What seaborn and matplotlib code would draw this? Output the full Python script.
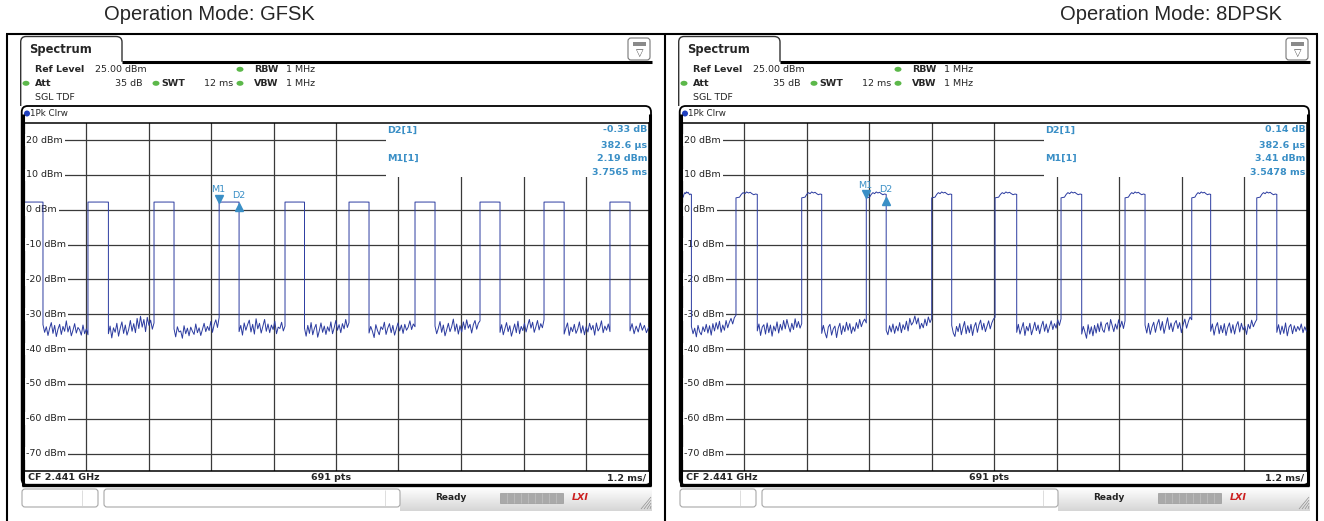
import numpy as np
import matplotlib
matplotlib.use("Agg")
import matplotlib.pyplot as plt
import seaborn as sns
from matplotlib.patches import FancyBboxPatch, Rectangle, Ellipse, PathPatch
from matplotlib.path import Path
from matplotlib.transforms import offset_copy, blended_transform_factory

# ---------------- data ----------------
panel_titles = ["Operation Mode: GFSK", "Operation Mode: 8DPSK"]

y_tick_values = [20, 10, 0, -10, -20, -30, -40, -50, -60, -70]
y_tick_labels = ["20 dBm", "10 dBm", "0 dBm", "-10 dBm", "-20 dBm",
                 "-30 dBm", "-40 dBm", "-50 dBm", "-60 dBm", "-70 dBm"]

# GFSK: pulse rising / falling times (ms) and top level profile (dBm)
gfsk_rise = [0.0, 1.238, 2.506, 3.7565, 5.021, 6.250, 7.517, 8.765, 9.994, 11.260]
gfsk_fall = [0.374, 1.630, 2.890, 4.139, 5.395, 6.634, 7.901, 9.149, 10.380, 11.645]
gfsk_top = [2.19, 2.20, 2.21, 2.20, 2.18]
gfsk_noise = [
    [-33.0, -35.2, -33.6, -36.1, -34.0, -32.4, -35.5, -33.2, -36.4, -34.3, -32.9, -35.8, -33.5, -34.9, -31.9, -35.1, -33.4, -36.2, -34.6, -32.7, -35.4, -33.8, -34.5, -36.0, -33.1, -35.6, -34.2, -35.9],
    [-35.6, -33.4, -36.8, -33.9, -35.2, -32.6, -36.3, -34.0, -32.2, -35.5, -33.1, -36.0, -34.4, -31.8, -34.9, -32.7, -35.3, -31.2, -34.1, -30.6, -33.7, -31.5, -35.0, -30.9, -33.2, -31.7, -34.3, -32.5],
    [-34.2, -36.5, -33.6, -35.1, -34.8, -36.9, -33.3, -35.6, -34.0, -36.2, -33.7, -34.9, -35.8, -32.8, -35.3, -33.9, -36.1, -34.4, -32.6, -35.0, -33.5, -34.7, -32.1, -35.2, -33.0, -31.6, -33.8, -30.9],
    [-35.0, -33.2, -36.0, -32.5, -34.6, -33.0, -31.7, -35.1, -32.9, -35.7, -31.3, -34.2, -32.6, -35.4, -33.5, -31.5, -34.9, -32.8, -35.3, -33.1, -34.4, -32.0, -35.6, -33.7, -34.1, -32.3, -34.8, -33.4],
    [-34.0, -36.3, -33.2, -35.5, -32.4, -35.9, -34.1, -32.9, -36.6, -34.7, -32.5, -35.2, -33.4, -35.8, -33.6, -34.9, -32.2, -35.6, -33.9, -31.8, -34.6, -33.0, -35.3, -32.7, -34.2, -31.5, -33.8, -32.4],
    [-35.4, -33.5, -34.9, -36.7, -33.0, -34.7, -35.9, -33.6, -34.4, -32.3, -35.8, -34.0, -32.7, -35.3, -33.2, -36.0, -34.3, -32.5, -34.8, -33.1, -35.5, -32.9, -34.6, -33.7, -31.9, -34.4, -32.8, -33.6],
    [-33.4, -35.6, -34.0, -32.1, -35.2, -33.1, -36.2, -34.5, -32.6, -35.0, -33.6, -31.4, -34.9, -32.8, -35.7, -33.3, -35.1, -32.2, -34.4, -31.6, -34.0, -32.9, -35.4, -33.0, -31.8, -34.3, -32.6, -31.9],
    [-35.2, -33.0, -35.9, -34.2, -32.4, -35.0, -33.3, -36.3, -34.6, -32.8, -35.3, -32.0, -35.6, -33.5, -34.7, -32.6, -35.1, -33.2, -31.5, -34.0, -32.3, -35.2, -33.6, -31.8, -34.5, -32.7, -33.9, -31.6],
    [-35.7, -34.0, -32.5, -36.1, -33.7, -35.0, -32.9, -35.5, -34.3, -32.2, -35.4, -33.3, -35.9, -33.6, -35.1, -32.6, -34.5, -33.2, -36.0, -32.5, -34.8, -33.9, -31.9, -35.3, -33.4, -34.6, -32.8, -35.0],
    [-34.8, -32.7, -35.6, -33.4, -35.1, -32.5, -34.6, -33.2, -35.3, -33.8],
]

# 8DPSK
dpsk_rise = [0.0, 1.046, 2.308, 3.5478, 4.804, 6.020, 7.287, 8.516, 9.797, 11.045]
dpsk_fall = [0.190, 1.455, 2.692, 3.930, 5.188, 6.436, 7.684, 8.900, 10.160, 11.430]
dpsk_top = [3.4, 3.5, 3.6, 4.4, 4.9, 4.6, 5.1, 4.8, 5.0, 4.6, 4.3, 4.5, 4.4]
dpsk_noise = [
    [-33.5, -35.6, -34.0, -36.5, -33.2, -35.1, -35.9, -33.6, -35.0, -32.9, -35.4, -33.3, -36.0, -32.7, -34.8, -32.4, -34.3, -32.0, -35.2, -33.1, -34.6, -31.8, -33.9, -32.3, -31.2, -32.8, -31.0, -30.3],
    [-34.8, -32.8, -36.1, -33.7, -33.0, -35.7, -32.5, -35.3, -33.1, -36.3, -33.4, -34.8, -32.2, -35.4, -32.9, -34.6, -31.8, -34.2, -31.5, -33.5, -35.1, -32.6, -34.4, -31.3, -33.8, -32.1, -34.0, -32.7],
    [-35.5, -33.2, -35.3, -36.8, -33.7, -32.9, -36.0, -34.2, -33.4, -36.7, -34.0, -32.6, -35.8, -33.3, -35.0, -32.3, -34.6, -32.7, -35.5, -33.6, -34.9, -32.4, -34.1, -31.5, -33.6, -32.2, -31.4, -32.5],
    [-34.6, -35.9, -33.3, -35.1, -32.8, -35.5, -33.4, -34.8, -32.4, -35.3, -33.0, -34.4, -32.0, -34.8, -31.2, -33.1, -32.3, -30.5, -32.8, -31.1, -34.2, -32.6, -33.9, -31.4, -33.3, -30.8, -32.4, -31.2],
    [-33.2, -35.4, -36.4, -33.5, -35.0, -32.7, -35.9, -33.8, -32.1, -35.6, -33.3, -35.3, -32.9, -36.1, -33.6, -32.4, -35.2, -33.0, -31.7, -34.5, -32.6, -35.0, -33.4, -31.9, -34.2, -32.5, -31.4, -30.9],
    [-35.2, -32.9, -35.7, -34.0, -32.4, -36.1, -33.5, -34.8, -32.6, -35.9, -34.2, -32.3, -34.7, -33.1, -35.6, -33.4, -32.0, -34.9, -32.8, -35.3, -33.6, -31.9, -34.4, -32.7, -34.0, -31.6, -33.2, -31.3],
    [-35.7, -33.5, -35.1, -36.9, -33.0, -35.7, -33.6, -36.2, -33.2, -35.4, -32.7, -35.0, -32.2, -34.5, -35.2, -32.9, -32.4, -34.8, -31.5, -33.2, -35.0, -32.8, -34.3, -31.6, -33.7, -32.0, -34.1, -31.9],
    [-33.1, -35.4, -32.6, -35.8, -33.7, -32.3, -35.2, -32.9, -31.5, -34.6, -32.1, -35.5, -33.2, -31.0, -34.4, -32.5, -35.0, -32.7, -31.8, -34.1, -32.4, -35.3, -33.0, -31.4, -34.0, -32.2, -30.8, -31.6],
    [-34.9, -32.8, -36.0, -33.6, -32.4, -35.6, -33.2, -35.3, -32.7, -36.1, -33.8, -32.5, -35.4, -33.0, -35.7, -33.3, -32.1, -35.1, -32.6, -34.5, -33.4, -35.8, -32.9, -34.2, -31.7, -33.6, -32.4, -31.5],
    [-35.2, -33.0, -35.8, -33.4, -35.5, -32.5, -36.2, -33.7, -32.9, -35.6, -33.3, -35.0, -33.5, -34.6, -32.8, -35.3, -33.6, -34.9],
]

# markers: M1 position (ms, dBm) and D2 delta (ms, dB)
gfsk_m1 = (3.7565, 2.19)
gfsk_d2_delta = (0.3826, -0.33)
dpsk_m1 = (3.5478, 3.41)
dpsk_d2_delta = (0.3826, 0.14)
gfsk_readout = ["-0.33 dB", "382.6 µs", "2.19 dBm", "3.7565 ms"]
dpsk_readout = ["0.14 dB", "382.6 µs", "3.41 dBm", "3.5478 ms"]

header_ref = "25.00 dBm"
header_att = "35 dB"
header_swt = "12 ms"
header_rbw = "1 MHz"
header_vbw = "1 MHz"
footer_cf = "CF 2.441 GHz"
footer_pts = "691 pts"
footer_div = "1.2 ms/"
sweep_time = 12.0

# ---------------- drawing ----------------
W, H = 1324, 521
sns.set_theme(style="white")
plt.rcParams["font.family"] = ["DejaVu Sans"]

fig = plt.figure(figsize=(W / 100, H / 100), dpi=100)
fig.patch.set_facecolor("white")

TRACE = "#2b3ba0"
TEAL = "#3a8fc6"
GRID = "#3a3a3a"
FS = 6.8


def fax(x0, y0, x1, y1, **kw):
    return fig.add_axes([x0 / W, 1 - y1 / H, (x1 - x0) / W, (y1 - y0) / H], **kw)


def build_trace(rises, falls, top, gaps, end):
    t, y = [], []
    for i, (r, f) in enumerate(zip(rises, falls)):
        t.extend(np.linspace(r, f, len(top)))
        y.extend(top)
        g = gaps[i]
        nxt = rises[i + 1] if i + 1 < len(rises) else end
        t.extend(np.linspace(f, nxt, len(g)))
        y.extend(g)
    return np.array(t), np.array(y)


overlay = fax(0, 0, W, H, zorder=10)
overlay.axis("off")


def L(x0, y0, x1, y1, lw=1.0, color="black"):
    overlay.plot([x0, x1], [y0, y1], color=color, lw=lw, solid_capstyle="butt")


def T(x, y, s, **kw):
    kw.setdefault("fontsize", FS)
    kw.setdefault("va", "center")
    overlay.text(x, y, s, **kw)


def dot(x, y, color, w=7, h=5):
    overlay.add_patch(Ellipse((x, y), w, h, color=color, lw=0))


# outer table
L(6, 34, 1318, 34, 1.5)
for xv in (7, 665, 1317):
    L(xv, 33.5, xv, 521, 1.5)

panels = [
    (gfsk_rise, gfsk_fall, gfsk_top, gfsk_noise, gfsk_m1, gfsk_d2_delta, gfsk_readout),
    (dpsk_rise, dpsk_fall, dpsk_top, dpsk_noise, dpsk_m1, dpsk_d2_delta, dpsk_readout),
]
title_x = [209, 1171]

for p, (rise, fall, top, noise, m1, d2d, readout) in enumerate(panels):
    ox = 0 if p == 0 else 658

    T(title_x[p], 15, panel_titles[p], fontsize=14.5, ha="center",
      family=["Liberation Sans", "DejaVu Sans"])

    # tab
    verts = [(20.7 + ox, 106), (20.7 + ox, 42), (20.7 + ox, 36.5), (26 + ox, 36.5),
             (116 + ox, 36.5), (122 + ox, 36.5), (122 + ox, 42), (122 + ox, 61.7)]
    codes = [Path.MOVETO, Path.LINETO, Path.CURVE3, Path.CURVE3,
             Path.LINETO, Path.CURVE3, Path.CURVE3, Path.LINETO]
    overlay.add_patch(PathPatch(Path(verts, codes), fc="none", ec="#333333", lw=1.0))
    L(122 + ox, 61.7, 652 + ox, 61.7, 2.2)
    T(29 + ox, 49.5, "Spectrum", fontsize=8.3, weight="bold")

    # icon
    overlay.add_patch(FancyBboxPatch((628 + ox, 38), 22, 22,
                                     boxstyle="round,pad=0,rounding_size=3",
                                     fc="white", ec="#777777", lw=0.8))
    overlay.add_patch(Rectangle((633 + ox, 42), 13, 4, fc="#8a8a8a", ec="none"))
    T(639.5 + ox, 52.5, "▽", fontsize=7, ha="center", color="#555555")

    # header rows
    T(35 + ox, 69.3, "Ref Level", weight="bold")
    T(95 + ox, 69.3, header_ref)
    dot(240 + ox, 69.3, "#5cb84a")
    T(254 + ox, 69.3, "RBW", weight="bold")
    T(286 + ox, 69.3, header_rbw)

    dot(26 + ox, 83.3, "#5cb84a")
    T(35 + ox, 83.3, "Att", weight="bold")
    T(142.7 + ox, 83.3, header_att, ha="right")
    dot(156 + ox, 83.3, "#5cb84a")
    T(161 + ox, 83.3, "SWT", weight="bold")
    T(204 + ox, 83.3, header_swt)
    dot(240 + ox, 83.3, "#5cb84a")
    T(254 + ox, 83.3, "VBW", weight="bold")
    T(286 + ox, 83.3, header_vbw)

    T(35 + ox, 97, "SGL TDF")

    # plot window frame
    overlay.add_patch(FancyBboxPatch((21.7 + ox, 106), 629.3, 379,
                                     boxstyle="round,pad=0,rounding_size=6",
                                     fc="none", ec="black", lw=1.3))
    L(22.6 + ox, 114, 22.6 + ox, 485.5, 2.2)
    L(650.2 + ox, 114, 650.2 + ox, 485.5, 2.2)
    L(22 + ox, 485, 651 + ox, 485, 2.4)
    dot(27 + ox, 113.5, "#1f3fbf", 6, 6)
    T(30.5 + ox, 113.5, "1Pk Clrw", fontsize=6.3)

    # footer
    T(28 + ox, 478, footer_cf, weight="bold")
    T(331 + ox, 478, footer_pts, weight="bold", ha="center")
    T(646 + ox, 478, footer_div, weight="bold", ha="right")

    # marker readout
    T(386.7 + ox, 130, "D2[1]", weight="bold", color=TEAL)
    T(386.7 + ox, 158.3, "M1[1]", weight="bold", color=TEAL)
    for k, yy in enumerate([130, 145.5, 158.8, 172.5]):
        T(647.5 + ox, yy, readout[k], weight="bold", color=TEAL, ha="right")

    # status bar
    g = np.linspace(1.0, 0.84, 24)
    img = np.dstack([g, g, g]).reshape(24, 1, 3)
    overlay.imshow(img, extent=(400 + ox, 652 + ox, 511, 487), aspect="auto",
                   zorder=0, interpolation="bilinear")
    overlay.add_patch(FancyBboxPatch((22 + ox, 489), 76, 18,
                                     boxstyle="round,pad=0,rounding_size=3",
                                     fc="white", ec="#a8a8a8", lw=0.8))
    L(82 + ox, 490, 82 + ox, 506, 0.5, "#d0d0d0")
    overlay.add_patch(FancyBboxPatch((104 + ox, 489), 296, 18,
                                     boxstyle="round,pad=0,rounding_size=3",
                                     fc="white", ec="#a8a8a8", lw=0.8))
    L(385 + ox, 490, 385 + ox, 506, 0.5, "#d0d0d0")
    T(451 + ox, 498, "Ready", weight="bold", ha="center", fontsize=6.5, color="#222222")
    overlay.add_patch(Rectangle((500 + ox, 493), 63, 10, fc="#a9a9a9", ec="#999999", lw=0.5))
    for s in range(1, 9):
        L(500 + ox + s * 7, 493, 500 + ox + s * 7, 503, 0.4, "#c8c8c8")
    T(580 + ox, 498, "LXI", weight="bold", style="italic", ha="center",
      fontsize=6.8, color="#cc1f1f")
    for s in range(4):
        L(641 + ox + s * 3, 509, 651 + ox, 497 + s * 3, 0.5, "#909090")

    # ---------------- data axes ----------------
    ax = fax(23.5 + ox, 122.6, 648.5 + ox, 471, zorder=1)
    t, y = build_trace(rise, fall, top, noise, sweep_time)
    sns.lineplot(x=t, y=y, sort=False, estimator=None, ax=ax, color=TRACE,
                 lw=0.7, zorder=3)
    ax.set(xlabel="", ylabel="")
    ax.set_xlim(0, sweep_time)
    ax.set_ylim(-75, 25)
    ax.set_xticks(np.linspace(0, sweep_time, 11))
    ax.set_yticks(y_tick_values)
    ax.tick_params(length=0, labelbottom=False, labelleft=False)
    ax.set_axisbelow(True)
    ax.grid(True, color=GRID, lw=0.9)
    for sp in ax.spines.values():
        sp.set_color("black")
        sp.set_linewidth(1.1)
    # white box behind the marker readout
    ax.add_patch(Rectangle((6.96, 9.45), sweep_time - 6.96, 25 - 9.45,
                           fc="white", ec="none", zorder=1))
    btf = blended_transform_factory(ax.transAxes, ax.transData)
    for v, lab in zip(y_tick_values, y_tick_labels):
        ax.text(0.0045, v, lab, transform=btf, fontsize=FS, va="center", ha="left",
                color="#222222", zorder=2,
                bbox=dict(fc="white", ec="none", pad=1.3))

    # markers
    d2 = (m1[0] + d2d[0], m1[1] + d2d[1])
    ax.plot([m1[0]], [m1[1]], marker="v", ms=5.5, color=TEAL, ls="none", zorder=4,
            transform=offset_copy(ax.transData, fig, x=0, y=3.5, units="dots"))
    ax.text(m1[0], m1[1], "M1", fontsize=FS, color=TEAL, ha="center", va="center", zorder=4,
            transform=offset_copy(ax.transData, fig, x=-1, y=12.5, units="dots"))
    ax.plot([d2[0]], [d2[1]], marker="^", ms=5.5, color=TEAL, ls="none", zorder=4,
            transform=offset_copy(ax.transData, fig, x=0, y=-3.5, units="dots"))
    ax.text(d2[0], d2[1], "D2", fontsize=FS, color=TEAL, ha="center", va="center", zorder=4,
            transform=offset_copy(ax.transData, fig, x=0, y=7.5, units="dots"))

overlay.set_xlim(0, W)
overlay.set_ylim(H, 0)

fig.savefig("out.png", dpi=100, facecolor="white")
